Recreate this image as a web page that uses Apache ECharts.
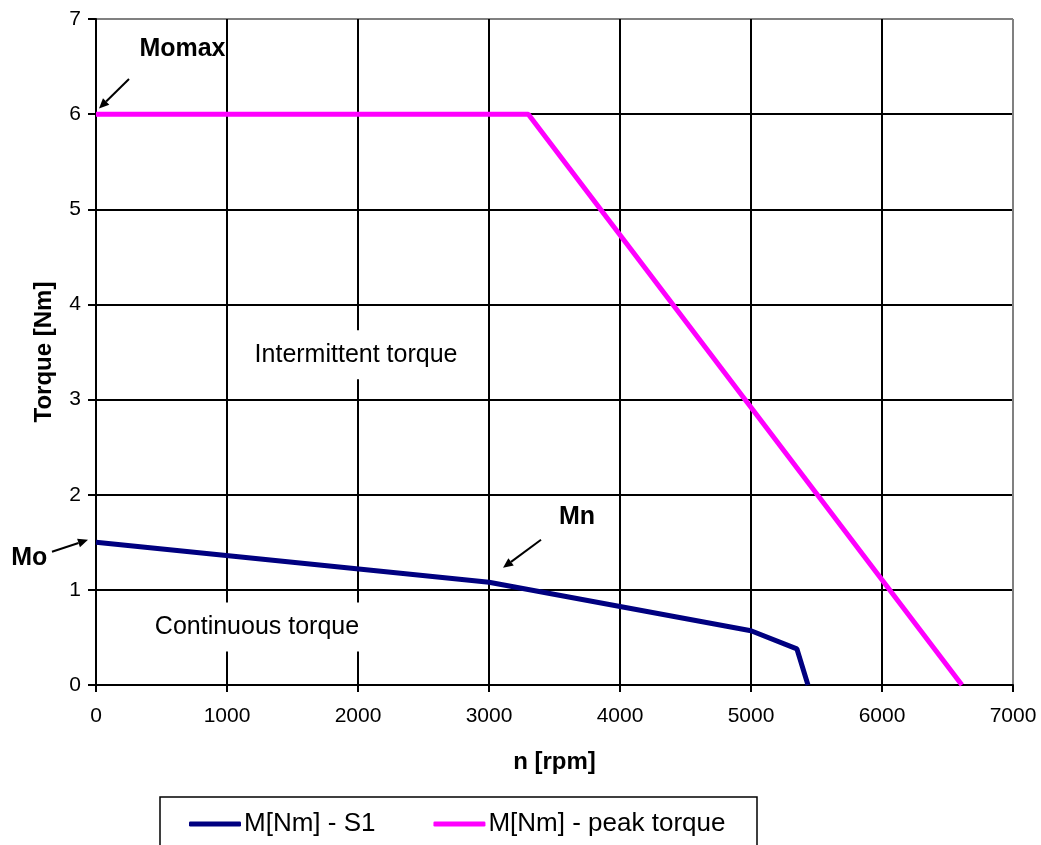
<!DOCTYPE html>
<html>
<head>
<meta charset="utf-8">
<script src="https://cdn.jsdelivr.net/npm/echarts@6/dist/echarts.min.js"></script>
<style>
html,body{margin:0;padding:0;background:#fff;}
#c{width:1041px;height:845px;}
</style>
</head>
<body>
<div id="c"></div>
<script>
// ---- data ----
const speedS1 = [0, 3000, 5000, 5350, 5435];
const torqueS1 = [1.5, 1.08, 0.57, 0.38, 0];
const speedPeak = [0, 3300, 6610];
const torquePeak = [6, 6, 0];
const seriesNames = ['M[Nm] - S1', 'M[Nm] - peak torque'];
const xAxisName = 'n [rpm]';
const yAxisName = 'Torque [Nm]';
const regionLabels = ['Intermittent torque', 'Continuous torque'];
const pointLabels = ['Momax', 'Mo', 'Mn'];

const FONT = 'Liberation Sans, Arial, Helvetica, sans-serif';
const chart = echarts.init(document.getElementById('c'), null, {renderer: 'canvas'});

const gridColorsX = ['#000','#000','#000','#000','#000','#000','#000','#808080'];
const gridColorsY = ['#000','#000','#000','#000','#000','#000','#000','#808080'];

chart.setOption({
  animation: false,
  backgroundColor: '#fff',
  grid: {left: 96, right: 28, top: 19, bottom: 160, containLabel: false},
  xAxis: {
    type: 'value', min: 0, max: 7000, interval: 1000,
    name: xAxisName, nameLocation: 'middle', nameGap: 65,
    nameTextStyle: {fontFamily: FONT, fontSize: 24, fontWeight: 'bold', color: '#000'},
    axisLine: {show: true, onZero: false, lineStyle: {color: '#000', width: 2}},
    axisTick: {show: true, length: 7, lineStyle: {color: '#000', width: 2}},
    axisLabel: {fontFamily: FONT, fontSize: 21, color: '#000', margin: 21, formatter: v => String(v)},
    splitLine: {show: true, lineStyle: {color: gridColorsX, width: 2}}
  },
  yAxis: {
    type: 'value', min: 0, max: 7, interval: 1,
    name: yAxisName, nameLocation: 'middle', nameGap: 40,
    nameTextStyle: {fontFamily: FONT, fontSize: 24, fontWeight: 'bold', color: '#000'},
    axisLine: {show: true, onZero: false, lineStyle: {color: '#000', width: 2}},
    axisTick: {show: true, length: 8, lineStyle: {color: '#000', width: 2}},
    axisLabel: {fontFamily: FONT, fontSize: 21, color: '#000', margin: 15, formatter: v => String(v)},
    splitLine: {show: true, lineStyle: {color: gridColorsY, width: 2}}
  },
  legend: {
    left: 189, top: 811, padding: 0, itemWidth: 52, itemHeight: 5, itemGap: 58,
    icon: 'roundRect',
    textStyle: {fontFamily: FONT, fontSize: 26, color: '#000', padding: [0,0,0,-2]},
    data: seriesNames
  },
  series: [
    {
      name: seriesNames[0], type: 'line', showSymbol: false, symbol: 'none',
      data: speedS1.map((x, i) => [x, torqueS1[i]]),
      lineStyle: {color: '#000080', width: 5}, itemStyle: {color: '#000080'}, z: 5
    },
    {
      name: seriesNames[1], type: 'line', showSymbol: false, symbol: 'none',
      data: speedPeak.map((x, i) => [x, torquePeak[i]]),
      lineStyle: {color: '#ff00ff', width: 5}, itemStyle: {color: '#ff00ff'}, z: 5
    }
  ]
});

function px(x, y) { return chart.convertToPixel({gridIndex: 0}, [x, y]); }

function arrow(from, to) {
  const a = px(from[0], from[1]), b = px(to[0], to[1]);
  const dx = b[0] - a[0], dy = b[1] - a[1];
  const L = Math.sqrt(dx*dx + dy*dy), ux = dx / L, uy = dy / L;
  const hl = 10, hw = 4.5;
  const bx = b[0] - ux*hl, by = b[1] - uy*hl;
  return [
    {type: 'line', z: 20, shape: {x1: a[0], y1: a[1], x2: bx, y2: by},
     style: {stroke: '#000', lineWidth: 2}},
    {type: 'polygon', z: 20, shape: {points: [[b[0], b[1]], [bx - uy*hw, by + ux*hw], [bx + uy*hw, by - ux*hw]]},
     style: {fill: '#000'}}
  ];
}

function label(text, pos, bold, bg) {
  const p = px(pos[0], pos[1]);
  const st = {text: text, x: p[0], y: p[1], align: 'center', verticalAlign: 'middle',
              font: (bold ? 'bold ' : '') + '25px ' + FONT, fill: '#000'};
  if (bg) { st.backgroundColor = '#fff'; st.padding = [12, 2, 12, 2]; }
  return {type: 'text', z: bg ? 3 : 20, style: st};
}

const g = [];
g.push({type: 'rect', z: 1, shape: {x: 160, y: 797, width: 597, height: 70},
        style: {fill: 'none', stroke: '#000', lineWidth: 1.5}});
g.push(label(regionLabels[0], [1985, 3.47], false, true));
g.push(label(regionLabels[1], [1229, 0.61], false, true));
g.push(label(pointLabels[0], [660, 6.68], true, false));
g.push(label(pointLabels[1], [-510, 1.33], true, false));
g.push(label(pointLabels[2], [3672, 1.76], true, false));
g.push(...arrow([252, 6.37], [23, 6.06]));
g.push(...arrow([-336, 1.40], [-61, 1.526]));
g.push(...arrow([3397, 1.526], [3107, 1.232]));

chart.setOption({graphic: g});
</script>
</body>
</html>
